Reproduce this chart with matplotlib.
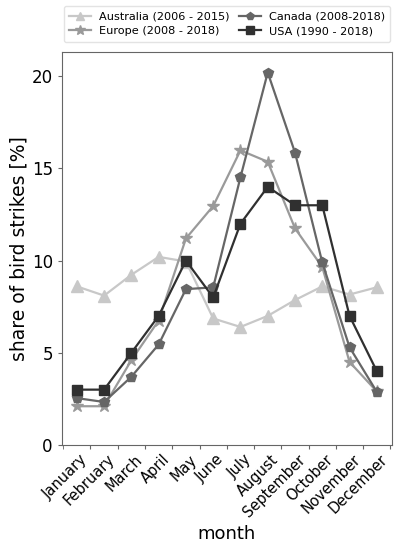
import matplotlib
matplotlib.use("Agg")
import matplotlib.pyplot as plt
import numpy as np

months = ["January", "February", "March", "April", "May", "June", "July",
          "August", "September", "October", "November", "December"]
australia = [8.6, 8.1, 9.23, 10.2, 9.95, 6.86, 6.4, 7.0, 7.86, 8.6, 8.16, 8.55]
europe = [2.1, 2.1, 4.6, 6.75, 11.2, 12.96, 15.98, 15.36, 11.75, 9.65, 4.5, 2.9]
canada = [2.54, 2.33, 3.7, 5.45, 8.45, 8.55, 14.52, 20.2, 15.86, 9.9, 5.3, 2.88]
usa = [3, 3, 5, 7, 10, 8, 12, 14, 13, 13, 7, 4]

labels = ["Australia (2006 - 2015)", "Europe (2008 - 2018)",
          "Canada (2008-2018)", "USA (1990 - 2018)"]
series = [australia, europe, canada, usa]
colors = ["#c8c8c8", "#9a9a9a", "#666666", "#303030"]
markers = ["^", "*", "p", "s"]
msizes = [8, 9, 7, 7]

fig = plt.figure(figsize=(3.99, 5.5), dpi=100)
ax = fig.add_axes([0.155, 0.191, 0.827, 0.714])
x = np.arange(len(months))
for s, lab, c, m, ms in zip(series, labels, colors, markers, msizes):
    ax.plot(x, s, color=c, marker=m, markersize=ms, linewidth=1.6, label=lab)

ax.set_xlim(-0.55, 11.55)
ax.set_ylim(0, 21.3)
ax.set_yticks([0, 5, 10, 15, 20])
ax.set_xticks(x + 0.5)
ax.set_xticks([-0.5], minor=True)
ax.set_xticklabels(months, rotation=45, ha="right", fontsize=10.5)
ax.tick_params(axis="y", labelsize=12)
ax.tick_params(axis="x", pad=2)
for sp in ax.spines.values():
    sp.set_color("#666666")
ax.tick_params(which="both", colors="#666666", labelcolor="black", length=3)
ax.set_ylabel("share of bird strikes [%]", fontsize=13.5, labelpad=2)
ax.set_xlabel("month", fontsize=13)

fig.legend(loc="upper center", bbox_to_anchor=(0.569, 0.999), ncol=2, fontsize=8.1,
           frameon=True, edgecolor="#dddddd", handlelength=1.9, columnspacing=0.9,
           handletextpad=0.7, borderpad=0.5, labelspacing=0.4, markerscale=0.8)

fig.savefig("out.png", dpi=100)
